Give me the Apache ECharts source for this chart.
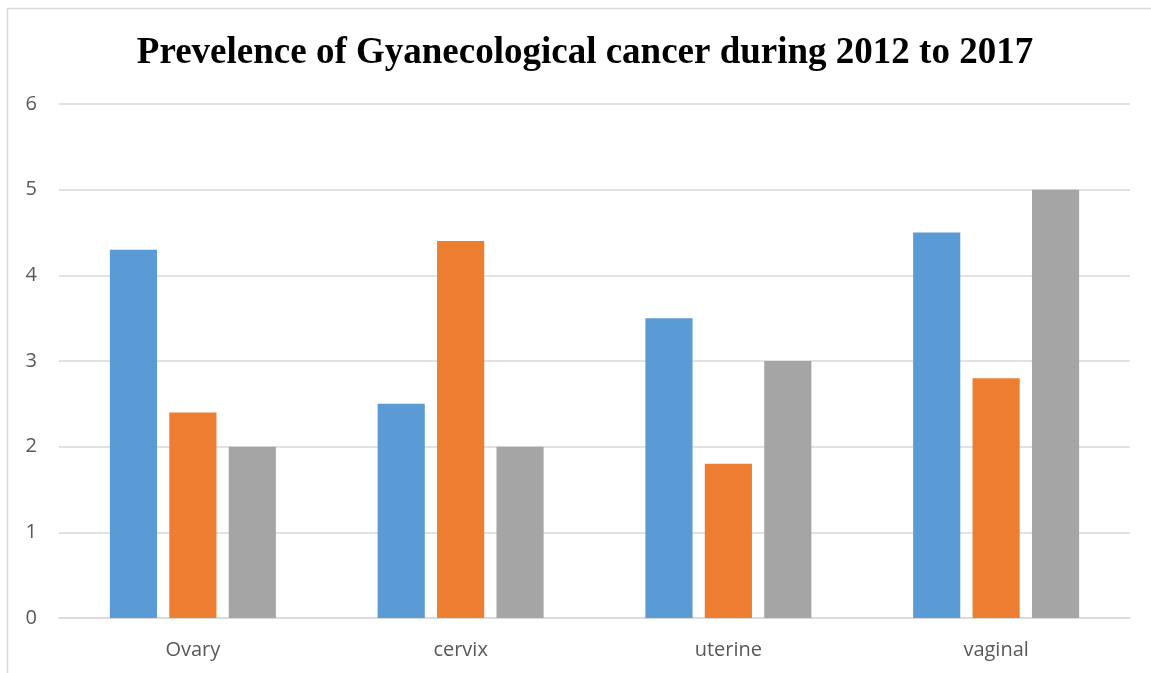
<!DOCTYPE html>
<html><head><meta charset="utf-8">
<script src="https://cdn.jsdelivr.net/npm/echarts@6/dist/echarts.min.js"></script>
<style>html,body{margin:0;padding:0;background:#fff}#c{width:1151px;height:673px}</style>
</head><body><div id="c"></div>
<script>
const categories = ['Ovary', 'cervix', 'uterine', 'vaginal'];
const series1 = [4.3, 2.5, 3.5, 4.5];
const series2 = [2.4, 4.4, 1.8, 2.8];
const series3 = [2.0, 2.0, 3.0, 5.0];
const colors = ['#5B9BD5', '#ED7D31', '#A5A5A5'];
const chart = echarts.init(document.getElementById('c'));
chart.setOption({
  animation: false,
  graphic: [{type:'rect', shape:{x:7.5, y:8.5, width:1170, height:700}, style:{fill:'none', stroke:'#d9d9d9', lineWidth:1.5}, silent:true}],
  title: {text:'Prevelence of Gyanecological cancer during 2012 to 2017', left:580, textAlign:'center', top:30,
    textStyle:{fontFamily:'Liberation Serif', fontWeight:'bold', fontSize:37, color:'#000'}},
  grid: {left:59, right:21, top:104, bottom:55, containLabel:false},
  xAxis: {type:'category', data:categories,
    axisLine:{lineStyle:{color:'#d9d9d9', width:1.5}}, axisTick:{show:false},
    axisLabel:{color:'#595959', fontSize:20, fontFamily:'Open Sans', margin:22}},
  yAxis: {type:'value', min:0, max:6, interval:1,
    axisLine:{show:false}, axisTick:{show:false},
    splitLine:{lineStyle:{color:'#d9d9d9', width:1.5}},
    axisLabel:{color:'#595959', fontSize:20, fontFamily:'Open Sans', margin:22}},
  series: [
    {type:'bar', data:series1, itemStyle:{color:colors[0]}, barGap:'26%', barCategoryGap:'38%'},
    {type:'bar', data:series2, itemStyle:{color:colors[1]}},
    {type:'bar', data:series3, itemStyle:{color:colors[2]}}
  ]
});
</script></body></html>
